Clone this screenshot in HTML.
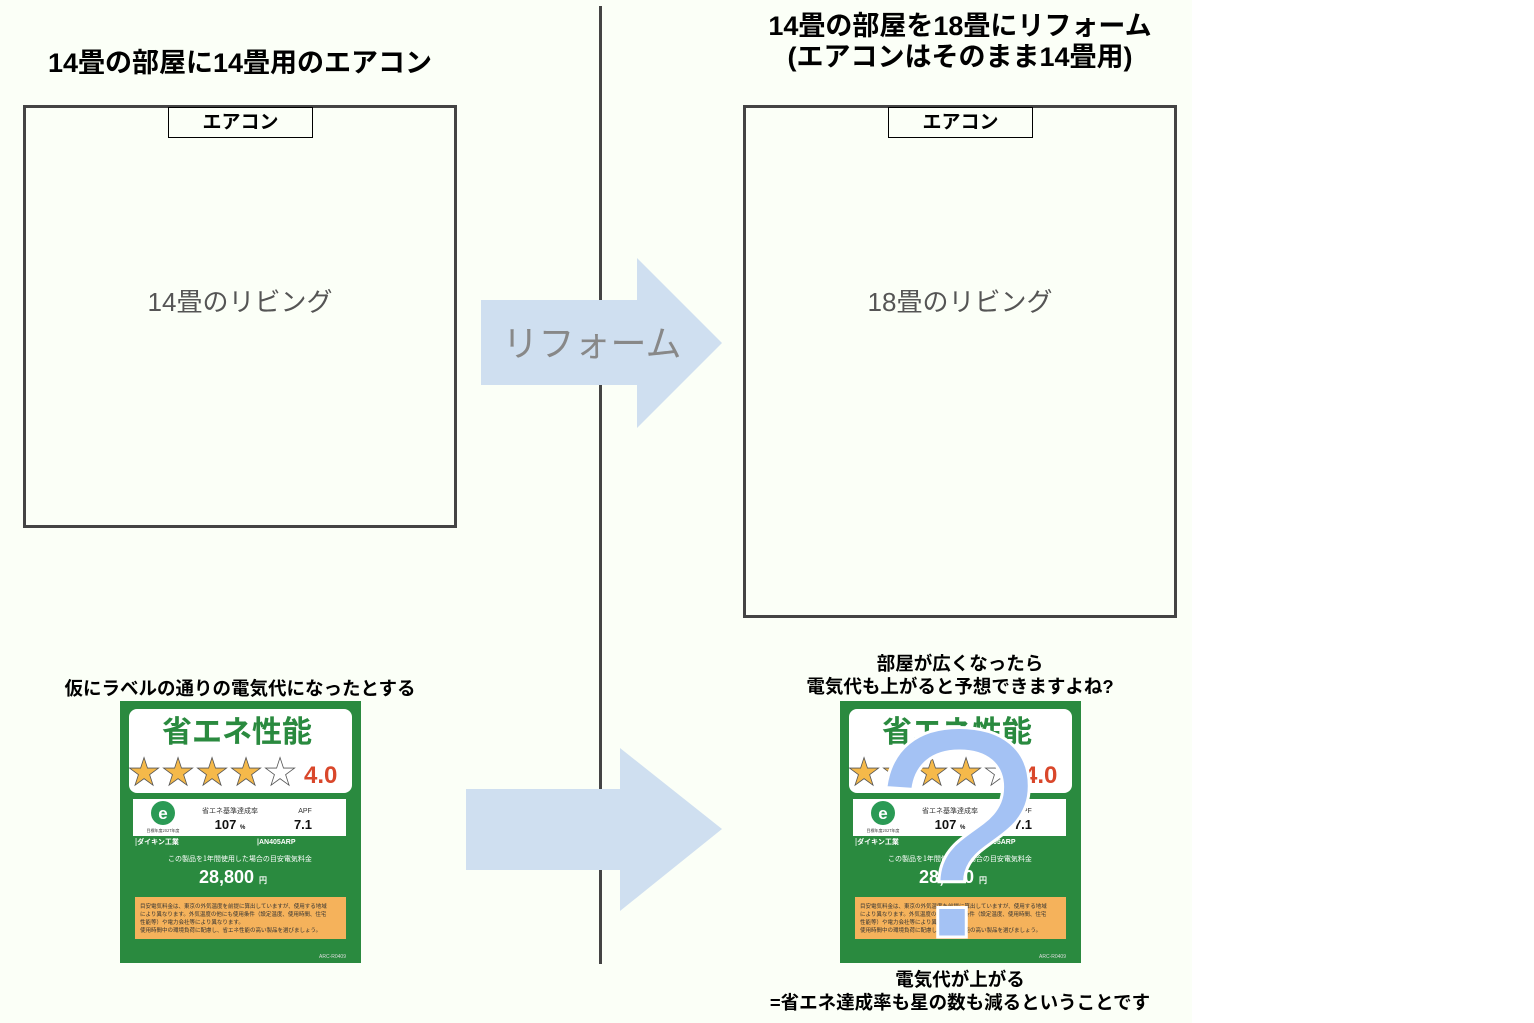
<!DOCTYPE html>
<html><head><meta charset="utf-8"><style>
body{margin:0;width:1534px;height:1023px;background:#fff;position:relative;overflow:hidden;font-family:"Liberation Sans","Noto Sans CJK JP",sans-serif}
.a{position:absolute}
.t{font-weight:bold;color:#000;text-align:center;white-space:nowrap}
</style></head><body>
<div class="a" style="left:0;top:0;width:1192px;height:1023px;background:#fbfff7"></div>
<div class="a" style="left:599px;top:6px;width:3px;height:958px;background:#444"></div>
<div class="a t" style="left:20px;top:41px;width:440px;font-size:27px">14畳の部屋に14畳用のエアコン</div>
<div class="a t" style="left:740px;top:11px;width:440px;font-size:27px;line-height:31px">14畳の部屋を18畳にリフォーム<br>(エアコンはそのまま14畳用)</div>
<div class="a" style="left:23px;top:105px;width:428px;height:417px;border:3px solid #444"></div>
<div class="a" style="left:743px;top:105px;width:428px;height:507px;border:3px solid #444"></div>
<div class="a t" style="left:168px;top:107px;width:143px;height:29px;border:1px solid #000;background:#fbfff7;font-size:19px;line-height:30px">エアコン</div>
<div class="a t" style="left:888px;top:107px;width:143px;height:29px;border:1px solid #000;background:#fbfff7;font-size:19px;line-height:30px">エアコン</div>
<div class="a t" style="left:23px;top:282px;width:434px;font-size:26px;color:#555;font-weight:normal">14畳のリビング</div>
<div class="a t" style="left:743px;top:282px;width:434px;font-size:26px;color:#555;font-weight:normal">18畳のリビング</div>
<svg class="a" style="left:0;top:0" width="1534" height="1023">
<polygon points="481,300 637,300 637,258 722,343 637,428 637,385 481,385" fill="#cfdff0"/>
<polygon points="466,789 620,789 620,748 722,829 620,911 620,870 466,870" fill="#cfdff0"/>
<text x="592" y="356" font-size="36" fill="#888" text-anchor="middle" font-family="Liberation Sans,Noto Sans CJK JP,sans-serif">リフォーム</text>
</svg>
<div class="a t" style="left:20px;top:675px;width:440px;font-size:18.5px">仮にラベルの通りの電気代になったとする</div>
<div class="a t" style="left:740px;top:652px;width:440px;font-size:18.5px;line-height:23px">部屋が広くなったら<br>電気代も上がると予想できますよね?</div>
<div class="a t" style="left:740px;top:968px;width:440px;font-size:18.5px;line-height:23px">電気代が上がる<br>=省エネ達成率も星の数も減るということです</div>

<svg class="a" style="left:120px;top:701px" width="241" height="262" id="lab">
<rect width="241" height="262" fill="#2a8a3f"/>
<rect x="9" y="8" width="223" height="84" rx="8" fill="#fff"/>
<text x="117" y="41" font-size="30" font-weight="bold" fill="#2a8a3f" text-anchor="middle" font-family="Noto Sans CJK JP,sans-serif">省エネ性能</text>
<g font-size="38" font-family="DejaVu Sans,sans-serif">
<text x="7" y="84" fill="#f5b94a" stroke="#555" stroke-width=".8">★</text>
<text x="41" y="84" fill="#f5b94a" stroke="#555" stroke-width=".8">★</text>
<text x="75" y="84" fill="#f5b94a" stroke="#555" stroke-width=".8">★</text>
<text x="109" y="84" fill="#f5b94a" stroke="#555" stroke-width=".8">★</text>
<text x="143" y="84" fill="#fff" stroke="#555" stroke-width=".8">★</text>
</g>
<text x="184" y="82" font-size="24" font-weight="bold" fill="#d9472b" font-family="Liberation Sans,sans-serif">4.0</text>
<rect x="13" y="98" width="213" height="37" fill="#fff"/>
<circle cx="43" cy="112" r="12" fill="#2a9a55"/>
<text x="43" y="118" font-size="17" font-weight="bold" fill="#fff" text-anchor="middle" font-family="Liberation Sans,sans-serif">e</text>
<text x="43" y="131" font-size="4" fill="#333" text-anchor="middle" font-family="Noto Sans CJK JP,sans-serif">目標年度2027年度</text>
<text x="110" y="112" font-size="7" fill="#333" text-anchor="middle" font-family="Noto Sans CJK JP,sans-serif">省エネ基準達成率</text>
<text x="185" y="112" font-size="7" fill="#333" text-anchor="middle" font-family="Liberation Sans,sans-serif">APF</text>
<text x="110" y="128" font-size="13" font-weight="bold" fill="#111" text-anchor="middle" font-family="Liberation Sans,sans-serif">107 <tspan font-size="6">%</tspan></text>
<text x="183" y="128" font-size="13" font-weight="bold" fill="#111" text-anchor="middle" font-family="Liberation Sans,sans-serif">7.1</text>
<text x="15" y="143" font-size="7" font-weight="bold" fill="#fff" font-family="Noto Sans CJK JP,sans-serif">|ダイキン工業</text>
<text x="137" y="143" font-size="7" font-weight="bold" fill="#fff" font-family="Liberation Sans,sans-serif">|AN405ARP</text>
<text x="120" y="160" font-size="7" fill="#fff" text-anchor="middle" font-family="Noto Sans CJK JP,sans-serif">この製品を1年間使用した場合の目安電気料金</text>
<text x="113" y="182" font-size="18" font-weight="bold" fill="#fff" text-anchor="middle" font-family="Liberation Sans,sans-serif">28,800 <tspan font-size="8">円</tspan></text>
<rect x="15" y="196" width="211" height="42" fill="#f5b25b"/>
<g font-size="5.5" fill="#333" font-family="Noto Sans CJK JP,sans-serif">
<text x="20" y="207">目安電気料金は、東京の外気温度を前提に算出していますが、使用する地域</text>
<text x="20" y="215">により異なります。外気温度の他にも使用条件（設定温度、使用時間、住宅</text>
<text x="20" y="223">性能等）や電力会社等により異なります。</text>
<text x="20" y="231">使用時間中の環境負荷に配慮し、省エネ性能の高い製品を選びましょう。</text>
</g>
<text x="226" y="257" font-size="5" fill="#ddd" text-anchor="end" font-family="Liberation Sans,sans-serif">ARC-R0409</text>
</svg>
<svg class="a" style="left:840px;top:701px" width="241" height="262"><use href="#lab"/></svg>
<svg class="a" style="left:0;top:0" width="1534" height="1023">
<text x="957" y="937" font-size="300" fill="#a4c2f4" stroke="#fff" stroke-width="3" text-anchor="middle" font-family="Liberation Sans,sans-serif">?</text>
</svg>
</body></html>
